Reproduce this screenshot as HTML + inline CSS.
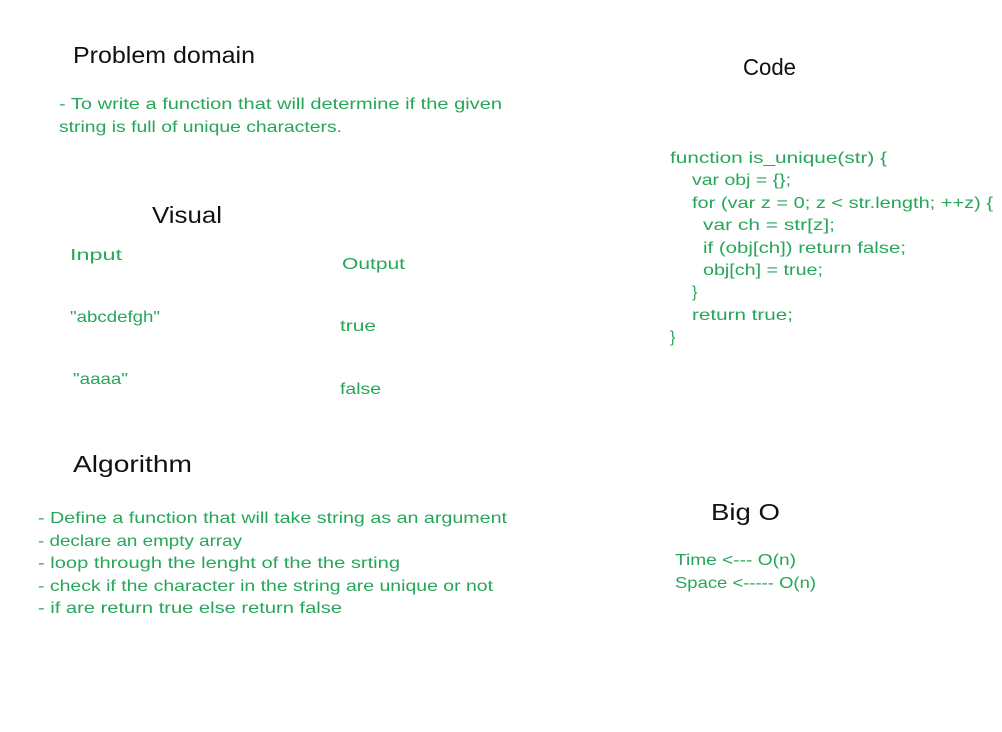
<!DOCTYPE html>
<html><head><meta charset="utf-8"><style>
html,body{margin:0;padding:0;background:#fff}
svg{display:block}
text{font-family:"Liberation Sans",sans-serif}
.t{fill:#111;font-size:23px}
.g{fill:#26a658;font-size:16px}
</style></head><body>
<svg width="1002" height="732" xmlns="http://www.w3.org/2000/svg">
<rect width="1002" height="732" fill="#fff"/>
<text class="t" x="73" y="63" textLength="182" lengthAdjust="spacingAndGlyphs">Problem domain</text>
<text class="t" x="743" y="75" textLength="53" lengthAdjust="spacingAndGlyphs">Code</text>
<text class="t" x="152" y="223" textLength="70" lengthAdjust="spacingAndGlyphs">Visual</text>
<text class="t" x="73" y="472" textLength="119" lengthAdjust="spacingAndGlyphs">Algorithm</text>
<text class="t" x="711" y="520" textLength="69" lengthAdjust="spacingAndGlyphs">Big O</text>

<text class="g" x="59" y="109" textLength="443" lengthAdjust="spacingAndGlyphs">- To write a function that will determine if the given</text>
<text class="g" x="59" y="132" textLength="283" lengthAdjust="spacingAndGlyphs">string is full of unique characters.</text>

<text class="g" x="70" y="260" textLength="52" lengthAdjust="spacingAndGlyphs">Input</text>
<text class="g" x="342" y="269" textLength="63" lengthAdjust="spacingAndGlyphs">Output</text>
<text class="g" x="70" y="322" textLength="90" lengthAdjust="spacingAndGlyphs">"abcdefgh"</text>
<text class="g" x="340" y="331" textLength="36" lengthAdjust="spacingAndGlyphs">true</text>
<text class="g" x="73" y="384" textLength="55" lengthAdjust="spacingAndGlyphs">"aaaa"</text>
<text class="g" x="340" y="394" textLength="41" lengthAdjust="spacingAndGlyphs">false</text>

<text class="g" x="670" y="163" textLength="217" lengthAdjust="spacingAndGlyphs">function is_unique(str) {</text>
<text class="g" x="692" y="185" textLength="99" lengthAdjust="spacingAndGlyphs">var obj = {};</text>
<text class="g" x="692" y="208" textLength="301" lengthAdjust="spacingAndGlyphs">for (var z = 0; z &lt; str.length; ++z) {</text>
<text class="g" x="703" y="230" textLength="132" lengthAdjust="spacingAndGlyphs">var ch = str[z];</text>
<text class="g" x="703" y="253" textLength="203" lengthAdjust="spacingAndGlyphs">if (obj[ch]) return false;</text>
<text class="g" x="703" y="275" textLength="120" lengthAdjust="spacingAndGlyphs">obj[ch] = true;</text>
<text class="g" x="692" y="297">}</text>
<text class="g" x="692" y="320" textLength="101" lengthAdjust="spacingAndGlyphs">return true;</text>
<text class="g" x="670" y="342">}</text>

<text class="g" x="38" y="523" textLength="469" lengthAdjust="spacingAndGlyphs">- Define a function that will take string as an argument</text>
<text class="g" x="38" y="546" textLength="204" lengthAdjust="spacingAndGlyphs">- declare an empty array</text>
<text class="g" x="38" y="568" textLength="362" lengthAdjust="spacingAndGlyphs">- loop through the lenght of the the srting</text>
<text class="g" x="38" y="591" textLength="455" lengthAdjust="spacingAndGlyphs">- check if the character in the string are unique or not</text>
<text class="g" x="38" y="613" textLength="304" lengthAdjust="spacingAndGlyphs">- if are return true else return false</text>

<text class="g" x="675" y="565" textLength="121" lengthAdjust="spacingAndGlyphs">Time &lt;--- O(n)</text>
<text class="g" x="675" y="588" textLength="141" lengthAdjust="spacingAndGlyphs">Space &lt;----- O(n)</text>
</svg>
</body></html>
